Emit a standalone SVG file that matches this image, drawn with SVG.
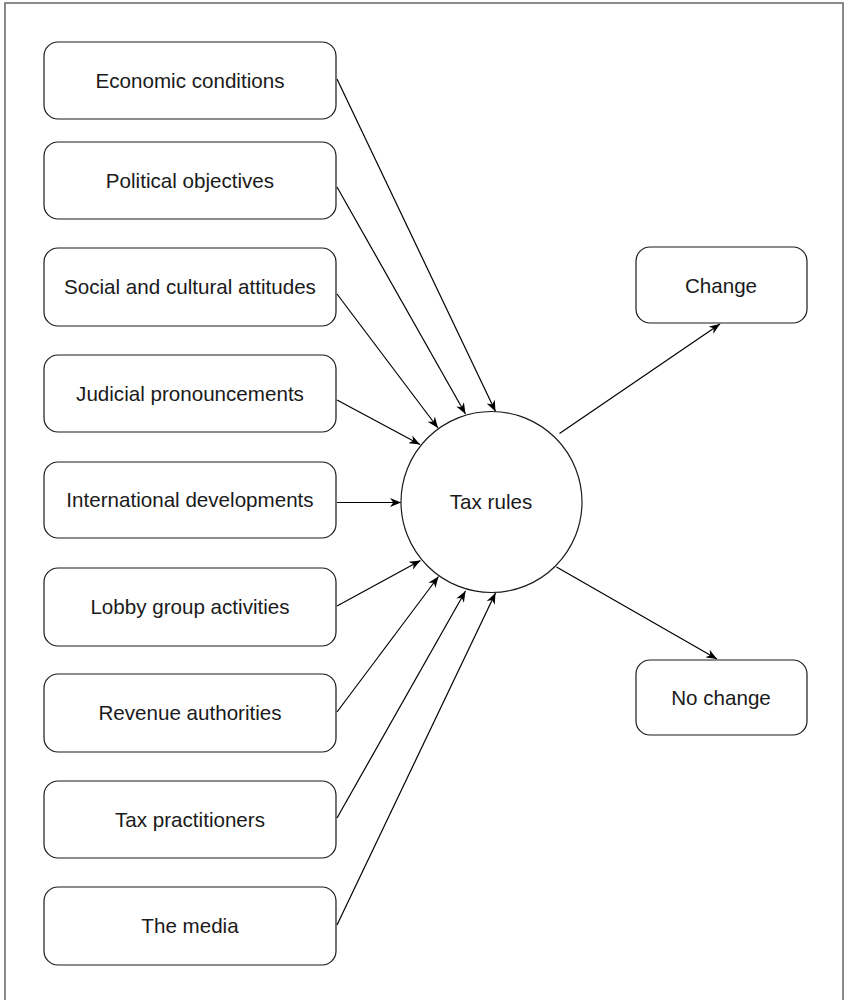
<svg xmlns="http://www.w3.org/2000/svg" width="845" height="1000" viewBox="0 0 845 1000">
<style>
.frame{fill:#ffffff;stroke:#666666;stroke-width:1.5}
.box{fill:#ffffff;stroke:#1a1a1a;stroke-width:1.2}
.lbl{font-family:"Liberation Sans",Arial,sans-serif;font-size:20.6px;fill:#1a1a1a;text-anchor:middle}
.edge{fill:none;stroke:#000000;stroke-width:1.2;marker-end:url(#arr)}
</style>
<defs>
<marker id="arr" viewBox="0 0 10 8" refX="10" refY="4" markerWidth="11" markerHeight="8.8" markerUnits="userSpaceOnUse" orient="auto">
<path d="M0,0 L10,4 L0,8 L3,4 z" fill="#000000"/>
</marker>
</defs>
<rect class="frame" x="5" y="3" width="838" height="1010"/>
<g id="connectors">
<line class="edge" x1="337" y1="79" x2="495.5" y2="411.5"/>
<line class="edge" x1="337" y1="187" x2="465.5" y2="414"/>
<line class="edge" x1="337" y1="294" x2="438" y2="428"/>
<line class="edge" x1="337" y1="400" x2="420" y2="444.5"/>
<line class="edge" x1="337" y1="502.5" x2="401" y2="502.5"/>
<line class="edge" x1="337" y1="606" x2="420.5" y2="560.5"/>
<line class="edge" x1="337" y1="712" x2="438.5" y2="576.5"/>
<line class="edge" x1="337" y1="818" x2="465.5" y2="591"/>
<line class="edge" x1="337" y1="925" x2="495.5" y2="593"/>
<line class="edge" x1="559.5" y1="433.5" x2="720" y2="324"/>
<line class="edge" x1="556.5" y1="567" x2="717" y2="659"/>
</g>
<g id="n-economic"><rect class="box" x="44" y="42" width="292" height="77" rx="14"/><text class="lbl" x="190" y="87.5">Economic conditions</text></g>
<g id="n-political"><rect class="box" x="44" y="142" width="292" height="77" rx="14"/><text class="lbl" x="190" y="187.5">Political objectives</text></g>
<g id="n-social"><rect class="box" x="44" y="248" width="292" height="78" rx="14"/><text class="lbl" x="190" y="294">Social and cultural attitudes</text></g>
<g id="n-judicial"><rect class="box" x="44" y="355" width="292" height="77" rx="14"/><text class="lbl" x="190" y="400.5">Judicial pronouncements</text></g>
<g id="n-international"><rect class="box" x="44" y="462" width="292" height="76" rx="14"/><text class="lbl" x="190" y="507">International developments</text></g>
<g id="n-lobby"><rect class="box" x="44" y="568" width="292" height="78" rx="14"/><text class="lbl" x="190" y="614">Lobby group activities</text></g>
<g id="n-revenue"><rect class="box" x="44" y="674" width="292" height="78" rx="14"/><text class="lbl" x="190" y="720">Revenue authorities</text></g>
<g id="n-practitioners"><rect class="box" x="44" y="781" width="292" height="77" rx="14"/><text class="lbl" x="190" y="826.5">Tax practitioners</text></g>
<g id="n-media"><rect class="box" x="44" y="887" width="292" height="78" rx="14"/><text class="lbl" x="190" y="933">The media</text></g>
<g id="n-taxrules"><circle class="box" cx="491.5" cy="502" r="90.5"/><text class="lbl" x="491" y="508.5">Tax rules</text></g>
<g id="n-change"><rect class="box" x="636" y="247" width="171" height="76" rx="14"/><text class="lbl" x="721" y="292.5">Change</text></g>
<g id="n-nochange"><rect class="box" x="636" y="660" width="171" height="75" rx="14"/><text class="lbl" x="721" y="704.5">No change</text></g>
</svg>
